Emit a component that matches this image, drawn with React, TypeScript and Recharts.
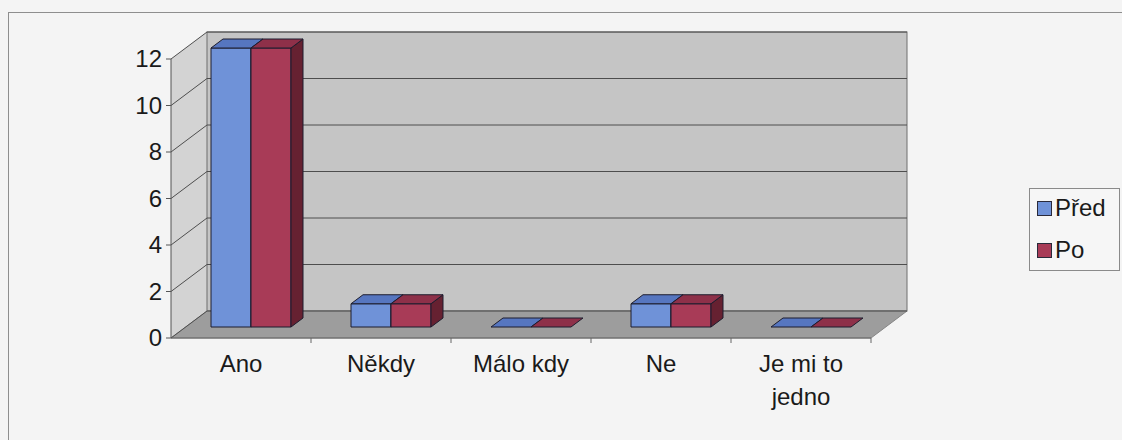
import { BarChart, Bar, XAxis, YAxis, Legend, ReferenceArea, ReferenceLine } from "recharts";

const categories = ["Ano", "Někdy", "Málo kdy", "Ne", "Je mi to jedno"];
const seriesNames = ["Před", "Po"];
const predValues = [12, 1, 0, 1, 0];
const poValues = [12, 1, 0, 1, 0];
const yTicks = [0, 2, 4, 6, 8, 10, 12];

const data = categories.map((name, i) => ({ name, pred: predValues[i], po: poValues[i] }));

const FONT = "'Liberation Sans', Arial, sans-serif";

// front plane -> back wall
const WALL_DX = 36;
const WALL_DY = -27;
// bars stand a little behind the front plane
const BAR_DX = 10;
const BAR_DY = -11;
// depth of a single bar
const BOX_DX = 12;
const BOX_DY = -9;

const colors = {
  pred: { front: "#6f92d8", top: "#5676c0", side: "#3d5592" },
  po: { front: "#a83b57", top: "#8e3049", side: "#662131" },
};

function makeBox(c: { front: string; top: string; side: string }) {
  return (props: any) => {
    const { x, y, width, height } = props;
    if (x == null || y == null) return null;
    const x0 = x + BAR_DX;
    const y0 = y + BAR_DY;
    const w = width;
    const h = Math.max(0, height || 0);
    const top = `${x0},${y0} ${x0 + BOX_DX},${y0 + BOX_DY} ${x0 + w + BOX_DX},${y0 + BOX_DY} ${x0 + w},${y0}`;
    const side = `${x0 + w},${y0} ${x0 + w + BOX_DX},${y0 + BOX_DY} ${x0 + w + BOX_DX},${y0 + h + BOX_DY} ${x0 + w},${y0 + h}`;
    return (
      <g stroke="#1d1d2e" strokeWidth={1} strokeLinejoin="round">
        {h > 0 && <rect x={x0} y={y0} width={w} height={h} fill={c.front} />}
        {h > 0 && <polygon points={side} fill={c.side} />}
        <polygon points={top} fill={c.top} />
      </g>
    );
  };
}

const Walls = (props: any) => {
  const { x, y, width, height } = props;
  const bottom = y + height;
  const bx = x + WALL_DX;
  const by = y + WALL_DY;
  const step = width / categories.length;
  return (
    <g>
      <polygon
        points={`${x},${bottom} ${x},${y} ${bx},${by} ${bx},${bottom + WALL_DY}`}
        fill="#d3d3d3"
      />
      <rect x={bx} y={by} width={width} height={height} fill="#c5c5c5" stroke="#6e6e6e" />
      <polygon
        points={`${x},${bottom} ${x + width},${bottom} ${bx + width},${bottom + WALL_DY} ${bx},${bottom + WALL_DY}`}
        fill="#9d9d9d"
        stroke="#858585"
      />
      {categories.map((_, i) => (
        <line
          key={i}
          x1={x + (i + 1) * step}
          x2={x + (i + 1) * step}
          y1={bottom}
          y2={bottom + 5}
          stroke="#666"
        />
      ))}
    </g>
  );
};

const GridLine = (props: any) => {
  const { x1, y1, x2, y2 } = props;
  if (x1 == null) return null;
  return (
    <polyline
      points={`${x1},${y1} ${x1 + WALL_DX},${y1 + WALL_DY} ${x2 + WALL_DX},${y2 + WALL_DY}`}
      fill="none"
      stroke="#4e4e4e"
      strokeWidth={1}
    />
  );
};

const ValueTick = (props: any) => {
  const { x, y, payload } = props;
  return (
    <text x={x} y={y} dy="0.35em" textAnchor="end" fontSize={24} fontFamily={FONT} fill="#1a1a1a">
      {payload.value}
    </text>
  );
};

function wrapLabel(s: string): string[] {
  if (s.length <= 9 || s.indexOf(" ") < 0) return [s];
  const cut = s.lastIndexOf(" ");
  return [s.slice(0, cut), s.slice(cut + 1)];
}

const CategoryTick = (props: any) => {
  const { x, y, payload } = props;
  const lines = wrapLabel(String(payload.value));
  return (
    <text textAnchor="middle" fontSize={24} fontFamily={FONT} fill="#1a1a1a">
      {lines.map((l, i) => (
        <tspan key={i} x={x} y={y + 34 + i * 33}>
          {l}
        </tspan>
      ))}
    </text>
  );
};

const LegendBox = (props: any) => {
  const items = [...(props.payload || [])].sort(
    (a: any, b: any) => seriesNames.indexOf(a.value) - seriesNames.indexOf(b.value)
  );
  return (
    <div
      style={{
        width: 91,
        height: 83,
        boxSizing: "border-box",
        border: "1px solid #8a8a8a",
        background: "#f6f6f6",
        padding: "7px 0 0 7px",
        fontFamily: FONT,
        fontSize: 24,
        color: "#1a1a1a",
      }}
    >
      {items.map((it: any, i: number) => (
        <div
          key={i}
          style={{ display: "flex", alignItems: "center", height: 24, marginBottom: 18, lineHeight: "24px" }}
        >
          <span
            style={{
              width: 13,
              height: 13,
              background: it.color,
              border: "1px solid #2a2a3a",
              marginRight: 3,
              flex: "none",
            }}
          />
          <span>{it.value}</span>
        </div>
      ))}
    </div>
  );
};

export default function App() {
  return (
    <div
      style={{
        position: "absolute",
        left: 0,
        top: 0,
        width: 1122,
        height: 440,
        background: "#f4f4f4",
        overflow: "hidden",
      }}
    >
      <div
        style={{
          position: "absolute",
          left: 8,
          top: 12,
          width: 1130,
          height: 440,
          borderLeft: "1px solid #8e8e8e",
          borderTop: "1px solid #8e8e8e",
        }}
      />
      <div style={{ position: "absolute", left: 0, top: 0 }}>
        <BarChart
          width={1122}
          height={440}
          data={data}
          margin={{ top: 59, right: 251, bottom: 32, left: 111 }}
          barCategoryGap={30}
          barGap={0}
        >
          <ReferenceArea y1={0} y2={12} shape={<Walls />} zIndex={-300} />
          {yTicks.map((t) => (
            <ReferenceLine key={t} y={t} shape={<GridLine />} zIndex={-250} />
          ))}
          <XAxis
            dataKey="name"
            height={70}
            tickSize={0}
            tickMargin={0}
            axisLine={{ stroke: "#666" }}
            tickLine={false}
            tick={<CategoryTick />}
            interval={0}
          />
          <YAxis
            width={60}
            domain={[0, 12]}
            ticks={yTicks}
            tickSize={5}
            tickMargin={4}
            axisLine={{ stroke: "#555" }}
            tickLine={{ stroke: "#555" }}
            tick={<ValueTick />}
          />
          <Legend
            layout="horizontal"
            verticalAlign="middle"
            align="center"
            width={91}
            height={83}
            wrapperStyle={{ left: 1029, top: 188, width: 91, height: 83 }}
            content={<LegendBox />}
          />
          <Bar dataKey="pred" name="Před" fill={colors.pred.front} shape={makeBox(colors.pred)} isAnimationActive={false} />
          <Bar dataKey="po" name="Po" fill={colors.po.front} shape={makeBox(colors.po)} isAnimationActive={false} />
        </BarChart>
      </div>
    </div>
  );
}
